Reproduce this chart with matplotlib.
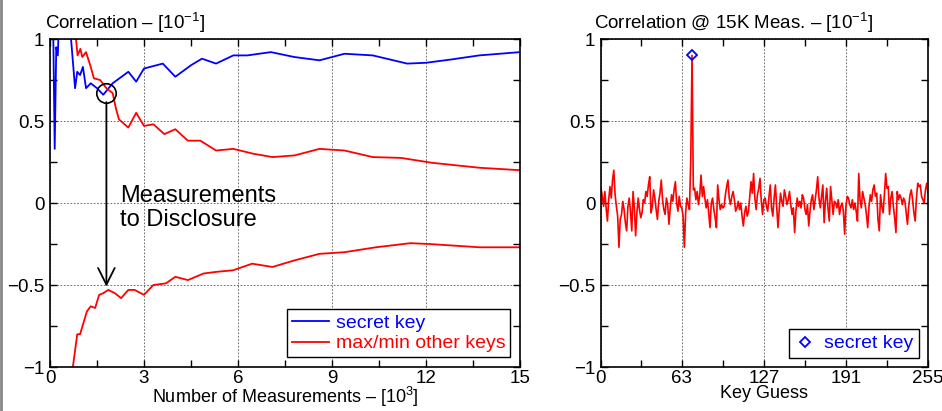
#!/usr/bin/env python3

"""
Correlation attack plot: secret key vs. other key guesses
"""

# =======================
# Imports
# =======================
import matplotlib
matplotlib.use("Agg")
import matplotlib.pyplot as plt
from matplotlib.lines import Line2D


# =======================
# Data
# =======================
# left panel, x in thousands of measurements
blue_x = [0.05, 0.10, 0.15, 0.20, 0.25, 0.30, 0.40, 0.55, 0.65, 0.80, 0.87, 0.96,
          1.05, 1.15, 1.30, 1.50, 1.70, 2.00, 2.50, 2.75, 3.00, 3.60, 4.00, 4.50,
          4.85, 5.30, 5.85, 6.30, 7.05, 7.80, 8.60, 9.40, 10.30, 11.40, 12.00,
          12.80, 13.70, 15.00]
blue_y = [1.3, 1.1, 0.33, 0.95, 0.90, 1.2, 1.5, 1.4, 1.05, 0.70, 0.80, 0.78,
          0.83, 0.70, 0.73, 0.70, 0.66, 0.73, 0.80, 0.74, 0.82, 0.85, 0.77, 0.84,
          0.88, 0.85, 0.90, 0.90, 0.92, 0.89, 0.87, 0.91, 0.90, 0.85, 0.855,
          0.875, 0.90, 0.92]

red_hi_x = [0.70, 0.83, 0.88, 0.97, 1.03, 1.15, 1.30, 1.40, 1.60, 1.80, 2.00,
            2.10, 2.20, 2.50, 2.75, 3.00, 3.30, 3.65, 4.00, 4.40, 4.80, 5.30,
            5.85, 6.50, 7.10, 7.80, 8.60, 9.40, 10.30, 11.20, 12.20, 13.70, 15.00]
red_hi_y = [1.2, 1.0, 0.90, 0.94, 0.89, 0.92, 0.83, 0.76, 0.75, 0.70, 0.67,
            0.58, 0.51, 0.46, 0.55, 0.47, 0.48, 0.42, 0.45, 0.38, 0.38, 0.32,
            0.33, 0.30, 0.28, 0.29, 0.33, 0.32, 0.28, 0.275, 0.245, 0.215, 0.20]

red_lo_x = [0.65, 0.73, 0.87, 0.96, 1.18, 1.30, 1.44, 1.57, 1.70, 1.86, 2.07,
            2.27, 2.50, 2.70, 3.00, 3.30, 3.70, 4.00, 4.40, 4.90, 5.30, 5.85,
            6.45, 7.10, 7.80, 8.60, 9.40, 10.40, 11.50, 12.10, 13.70, 15.00]
red_lo_y = [-1.2, -1.0, -0.80, -0.80, -0.66, -0.63, -0.64, -0.56, -0.55, -0.53,
            -0.55, -0.58, -0.53, -0.53, -0.56, -0.50, -0.49, -0.45, -0.47, -0.43,
            -0.42, -0.41, -0.37, -0.39, -0.35, -0.31, -0.30, -0.27, -0.245,
            -0.25, -0.27, -0.27]

# point marked as "measurements to disclosure"
mtd_x = 1.8
mtd_hi = 0.67
mtd_lo = -0.51

# right panel: correlation for each key guess 0..255
key_corr = [
    0.09, 0.04, -0.02, 0.07, -0.03, -0.11, 0.02, 0.10, 0.03, 0.14, 0.20, 0.05,
    -0.02, -0.08, -0.27, -0.10, -0.07, 0.01, -0.04, -0.12, -0.17, -0.02, 0.03,
    -0.05, -0.17, 0.07, -0.03, -0.20, -0.06, 0.03, -0.04, -0.09,
    -0.06, 0.02, 0.00, 0.07, 0.04, 0.11, 0.16, -0.06, -0.02, 0.08, 0.03, -0.04,
    -0.10, 0.01, 0.06, 0.14, 0.02, -0.04, -0.07, 0.03, -0.01, -0.13, -0.03,
    0.05, 0.01, 0.08, 0.13, 0.00, -0.05, 0.04, -0.02, -0.03,
    -0.08, -0.27, -0.06, 0.03, -0.01, -0.04, 0.27, 0.90, 0.08, 0.09, 0.02, 0.07,
    -0.01, 0.05, 0.17, 0.04, 0.10, 0.03, -0.03, 0.02, -0.06, -0.15, 0.00, 0.03,
    -0.04, -0.09, -0.15, 0.11, 0.02, -0.04, -0.01, -0.03,
    -0.02, 0.05, 0.10, 0.14, 0.03, -0.01, 0.04, 0.07, 0.02, -0.05, -0.03, 0.01,
    -0.04, 0.00, -0.08, -0.14, -0.06, -0.02, -0.08, -0.05, 0.04, 0.13, 0.06,
    0.18, 0.03, -0.04, 0.05, 0.09, 0.15, 0.01, -0.07, 0.02,
    0.03, -0.02, -0.05, 0.04, 0.11, -0.03, -0.08, 0.03, 0.11, -0.02, -0.15,
    -0.04, 0.06, 0.01, -0.02, 0.08, 0.04, -0.01, 0.02, 0.07, -0.01, -0.07,
    -0.03, -0.18, -0.05, 0.03, -0.02, 0.01, -0.03, 0.05, 0.03, -0.04,
    -0.07, -0.01, -0.14, -0.05, 0.02, 0.05, -0.04, 0.02, 0.08, 0.16, 0.03,
    -0.03, 0.04, 0.11, -0.12, 0.01, 0.09, -0.03, -0.11, 0.10, 0.02, -0.07,
    0.01, 0.00, -0.03, 0.02, -0.07, -0.02, 0.00, -0.05, -0.19, -0.02,
    0.04, 0.03, -0.01, -0.03, 0.02, -0.04, 0.00, -0.05, -0.11, 0.18, 0.02,
    -0.03, 0.07, 0.03, -0.01, -0.07, -0.15, -0.02, 0.05, 0.01, 0.08, 0.11,
    0.04, 0.06, -0.10, -0.17, 0.05, -0.02, -0.06, 0.05, 0.18, 0.09,
    0.10, -0.07, 0.03, 0.07, -0.02, -0.09, -0.18, 0.07, 0.02, 0.05, 0.03,
    -0.01, 0.03, 0.01, -0.06, -0.13, -0.02, 0.05, 0.08, 0.02, -0.06, -0.11,
    0.03, 0.12, 0.10, 0.11, 0.04, 0.02, 0.00, 0.08, 0.12, 0.06,
]
secret_key = 71

left_xticks = [0, 3, 6, 9, 12, 15]
left_xminor = [1.5, 4.5, 7.5, 10.5, 13.5]
right_xticks = [0, 63, 127, 191, 255]
right_xminor = [31, 95, 159, 223]
yticks = [-1, -0.5, 0, 0.5, 1]
yminor = [-0.75, -0.25, 0.25, 0.75]

# =======================
# Style
# =======================
plt.rcParams["font.family"] = ["Liberation Sans", "DejaVu Sans"]
plt.rcParams["mathtext.fontset"] = "custom"
plt.rcParams["mathtext.rm"] = "Liberation Sans"
plt.rcParams["mathtext.it"] = "Liberation Sans:italic"
plt.rcParams["font.size"] = 13.5

FS = 13.5
BLUE = "#0000ff"
RED = "#ff0000"


def style_axes(ax, xmaj, xmin):
    ax.set_ylim(-1, 1)
    ax.set_xticks(xmaj)
    ax.set_xticks(xmin, minor=True)
    ax.set_yticks(yticks)
    ax.set_yticks(yminor, minor=True)
    ax.set_yticklabels(["\u22121", "\u22120.5", "0", "0.5", "1"])
    ax.tick_params(which="both", direction="in", top=True, right=True,
                   length=5, width=1, labelsize=FS, pad=4)
    ax.tick_params(axis="x", which="both", pad=2)
    ax.grid(True, which="major", linestyle=(0, (2, 2)), color="#555555",
            linewidth=0.6)
    for sp in ax.spines.values():
        sp.set_linewidth(1.2)


# =======================
# Figure
# =======================
fig = plt.figure(figsize=(9.42, 4.11), dpi=100)
ax1 = fig.add_axes([50 / 942, 1 - 367 / 411, 470 / 942, 328 / 411])
ax2 = fig.add_axes([601 / 942, 1 - 367 / 411, 327 / 942, 328 / 411])

# ---- left panel
ax1.plot(blue_x, blue_y, color=BLUE, lw=1.3, label="secret key")
ax1.plot(red_hi_x, red_hi_y, color=RED, lw=1.3, label="max/min other keys")
ax1.plot(red_lo_x, red_lo_y, color=RED, lw=1.3)
ax1.set_xlim(0, 15)
style_axes(ax1, left_xticks, left_xminor)

ax1.plot([mtd_x], [mtd_hi], marker="o", markersize=14, markerfacecolor="none",
         markeredgecolor="black", markeredgewidth=1.2)
ax1.annotate("", xy=(mtd_x, mtd_lo), xytext=(mtd_x, mtd_hi - 0.055),
             arrowprops=dict(arrowstyle="->", lw=1.3, color="black",
                             mutation_scale=30, shrinkA=0, shrinkB=0))
ax1.text(2.25, -0.03, "Measurements\nto Disclosure", fontsize=17,
         va="center", ha="left", linespacing=1.1)

ax1.text(-0.01, 1.03, "Correlation \u2013 [10$^{-1}$]", transform=ax1.transAxes,
         ha="left", va="baseline", fontsize=FS)
ax1.set_xlabel("Number of Measurements \u2013 [10$^3$]", fontsize=13, labelpad=-1)

ax1.legend(loc="lower right", fontsize=14, labelcolor="linecolor",
           fancybox=False, edgecolor="black", framealpha=1,
           borderaxespad=0.5, handlelength=1.9, borderpad=0.25,
           labelspacing=0.15, handletextpad=0.35).get_frame().set_linewidth(1.0)

# ---- right panel
ax2.plot(range(len(key_corr)), key_corr, color=RED, lw=1.2)
ax2.plot([secret_key], [key_corr[secret_key]], linestyle="none", marker="D",
         markersize=5.5, markerfacecolor="none", markeredgecolor=BLUE,
         markeredgewidth=1.3, label="secret key")
ax2.set_xlim(0, 255)
style_axes(ax2, right_xticks, right_xminor)

ax2.text(-0.02, 1.03, "Correlation @ 15K Meas. \u2013 [10$^{-1}$]",
         transform=ax2.transAxes, ha="left", va="baseline", fontsize=FS)
ax2.set_xlabel("Key Guess", fontsize=13, labelpad=-1)

ax2.legend(loc="lower right", fontsize=14, labelcolor=BLUE,
           fancybox=False, edgecolor="black", framealpha=1,
           borderaxespad=0.45, handlelength=1.0, borderpad=0.3,
           handletextpad=0.5).get_frame().set_linewidth(1.0)

# thin frame line at the left edge of the image
fig.add_artist(Line2D([0.0015, 0.0015], [0, 1], color="#888888", lw=2,
                      transform=fig.transFigure))

fig.savefig("out.png", dpi=100)
plt.close(fig)
